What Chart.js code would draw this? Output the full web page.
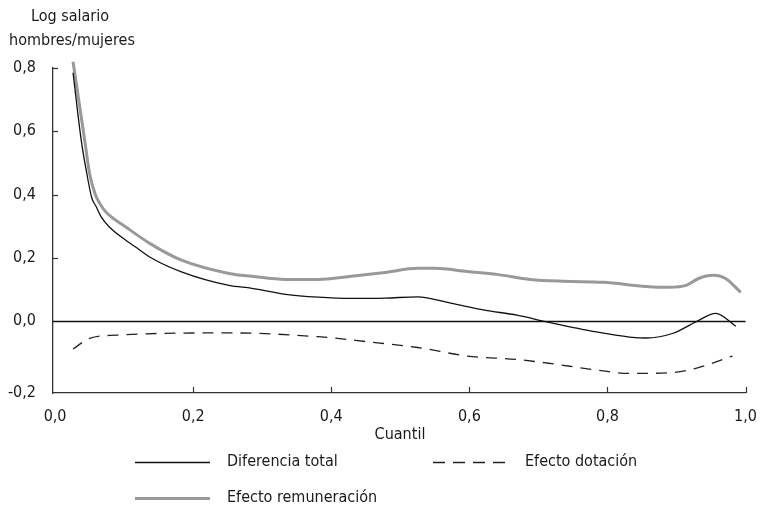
<!DOCTYPE html>
<html>
<head>
<meta charset="utf-8">
<script src="https://cdn.jsdelivr.net/npm/chart.js@4/dist/chart.umd.min.js"></script>
<style>
    html, body { margin: 0; padding: 0; background: #fff; }
</style>
</head>
<body>
<canvas id="chart" width="763" height="511"></canvas>
<script>
// Data (quantile -> log wage gap)
const totalQ = [0.026, 0.038, 0.046, 0.053, 0.060, 0.067, 0.079, 0.103, 0.122, 0.137, 0.184, 0.252, 0.285, 0.334, 0.381, 0.429, 0.478, 0.525, 0.573, 0.622, 0.669, 0.712, 0.784, 0.832, 0.856, 0.895, 0.928, 0.957, 0.986];
const totalV = [0.785, 0.570, 0.466, 0.391, 0.360, 0.329, 0.297, 0.255, 0.226, 0.203, 0.155, 0.113, 0.104, 0.085, 0.076, 0.072, 0.073, 0.077, 0.057, 0.035, 0.019, -0.002, -0.034, -0.050, -0.053, -0.038, -0.002, 0.025, -0.016];

const dotacionQ = [0.026, 0.050, 0.089, 0.252, 0.381, 0.453, 0.525, 0.597, 0.669, 0.712, 0.784, 0.832, 0.889, 0.928, 0.981];
const dotacionV = [-0.088, -0.054, -0.044, -0.037, -0.049, -0.065, -0.083, -0.110, -0.121, -0.132, -0.154, -0.165, -0.163, -0.149, -0.110];

const remuQ = [0.026, 0.043, 0.050, 0.058, 0.065, 0.074, 0.103, 0.137, 0.184, 0.252, 0.285, 0.334, 0.381, 0.429, 0.478, 0.525, 0.550, 0.597, 0.640, 0.688, 0.737, 0.794, 0.856, 0.889, 0.914, 0.932, 0.953, 0.971, 0.993];
const remuV = [0.820, 0.570, 0.466, 0.402, 0.371, 0.344, 0.297, 0.246, 0.192, 0.151, 0.142, 0.132, 0.132, 0.142, 0.154, 0.167, 0.167, 0.157, 0.148, 0.132, 0.126, 0.123, 0.110, 0.107, 0.113, 0.135, 0.145, 0.135, 0.091];

const seriesNames = ["Diferencia total", "Efecto dotación", "Efecto remuneración"];
const xTicks = [0, 0.2, 0.4, 0.6, 0.8, 1.0];
const xTickLabels = ["0,0", "0,2", "0,4", "0,6", "0,8", "1,0"];
const yTicks = [-0.2268, 0, 0.2, 0.4, 0.6, 0.8];
const yTickLabels = ["-0,2", "0,0", "0,2", "0,4", "0,6", "0,8"];

const FONT = "'Liberation Sans Narrow', 'DejaVu Sans Condensed', 'Roboto', sans-serif";
const TEXT = "#1a1a1a";

const toPoints = (q, v) => q.map((x, i) => ({x: x, y: v[i]}));

// legend slots (line start x, y)
const legendSlots = [[135, 462], [433, 462], [135, 498]];

const decor = {
    id: "decor",
    beforeDatasetsDraw(chart) {
        const {ctx, chartArea: a, scales: {x, y}} = chart;
        ctx.save();
        ctx.strokeStyle = "#333";
        ctx.lineWidth = 1.2;
        y.ticks.forEach(t => {
            if (t.value > 0) {
                const p = Math.round(y.getPixelForValue(t.value)) + 0.5;
                ctx.beginPath(); ctx.moveTo(a.left, p); ctx.lineTo(a.left + 5, p); ctx.stroke();
            }
        });
        x.ticks.forEach(t => {
            if (t.value > 0) {
                const p = Math.round(x.getPixelForValue(t.value)) + 0.5;
                ctx.beginPath(); ctx.moveTo(p, a.bottom); ctx.lineTo(p, a.bottom - 6); ctx.stroke();
            }
        });
        // zero line
        ctx.strokeStyle = "#111";
        ctx.lineWidth = 1.3;
        const y0 = Math.round(y.getPixelForValue(0)) + 0.5;
        ctx.beginPath(); ctx.moveTo(a.left, y0); ctx.lineTo(a.right, y0); ctx.stroke();
        ctx.restore();
    },
    afterDraw(chart) {
        const ctx = chart.ctx;
        ctx.save();
        ctx.fillStyle = TEXT;
        ctx.font = "16px " + FONT;
        ctx.textAlign = "center";
        ctx.textBaseline = "middle";
        ctx.fillText("Log salario", 70, 17);
        ctx.fillText("hombres/mujeres", 72, 41);
        ctx.fillText("Cuantil", 400, 435);

        ctx.textAlign = "left";
        chart.data.datasets.forEach((ds, i) => {
            const [lx, ly] = legendSlots[i];
            ctx.strokeStyle = ds.borderColor;
            ctx.lineWidth = ds.borderWidth;
            ctx.setLineDash(ds.borderDash ? [12, 8] : []);
            ctx.beginPath(); ctx.moveTo(lx, ly + 0.5); ctx.lineTo(lx + 75, ly + 0.5); ctx.stroke();
            ctx.setLineDash([]);
            ctx.fillText(ds.label, lx + 92, ly);
        });
        ctx.restore();
    }
};

new Chart(document.getElementById("chart"), {
    type: "line",
    data: {
        datasets: [{
            label: seriesNames[0],
            data: toPoints(totalQ, totalV),
            borderColor: "#111",
            borderWidth: 1.3,
            order: 0
        }, {
            label: seriesNames[1],
            data: toPoints(dotacionQ, dotacionV),
            borderColor: "#222",
            borderWidth: 1.3,
            borderDash: [11, 8],
            order: 1
        }, {
            label: seriesNames[2],
            data: toPoints(remuQ, remuV),
            borderColor: "#999",
            borderWidth: 3,
            order: 2
        }]
    },
    options: {
        responsive: false,
        animation: false,
        devicePixelRatio: 1,
        clip: false,
        elements: {
            point: {radius: 0},
            line: {cubicInterpolationMode: "monotone", fill: false}
        },
        layout: {padding: {top: 68, right: 13, left: 0, bottom: 0}},
        plugins: {legend: {display: false}, tooltip: {enabled: false}},
        scales: {
            x: {
                type: "linear",
                min: -0.003,
                max: 1.0,
                afterBuildTicks: s => { s.ticks = xTicks.map(v => ({value: v})); },
                afterFit: s => { s.height = 118; },
                grid: {display: false},
                border: {display: true, color: "#333", width: 1.3},
                ticks: {
                    padding: 6,
                    color: TEXT,
                    font: {family: FONT, size: 16},
                    callback: (v, i) => xTickLabels[i]
                }
            },
            y: {
                type: "linear",
                min: yTicks[0],
                max: 0.8,
                afterBuildTicks: s => { s.ticks = yTicks.map(v => ({value: v})); },
                afterFit: s => { s.width = 53; },
                grid: {display: false},
                border: {display: true, color: "#333", width: 1.3},
                ticks: {
                    padding: 9,
                    color: TEXT,
                    font: {family: FONT, size: 16},
                    callback: (v, i) => yTickLabels[i]
                }
            }
        }
    },
    plugins: [decor]
});
</script>
</body>
</html>
